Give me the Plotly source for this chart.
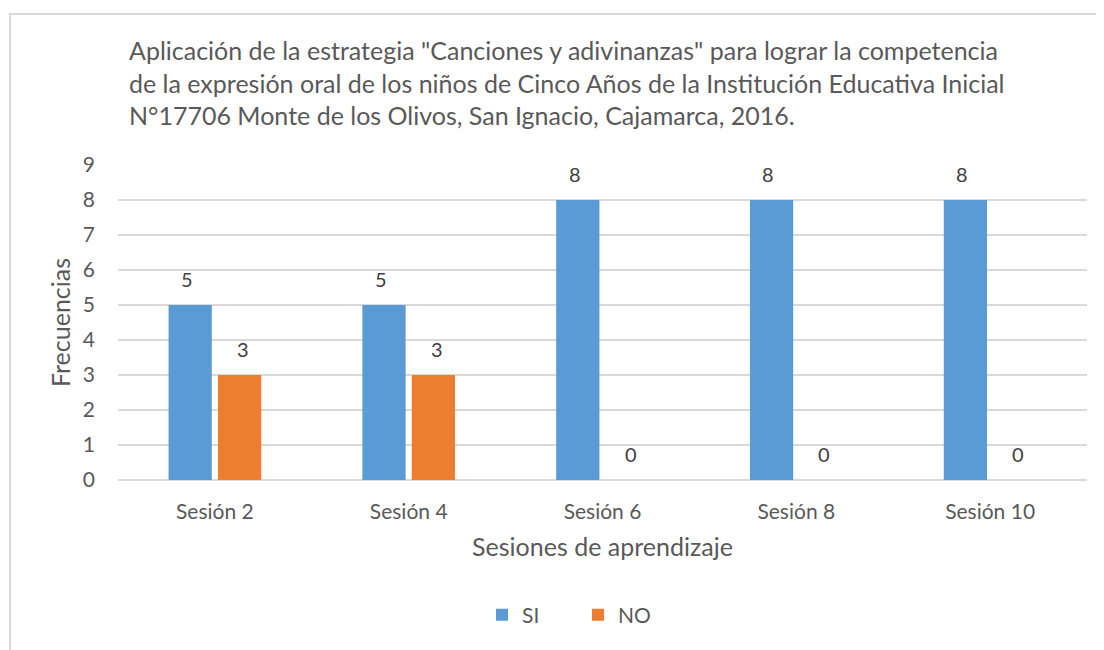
import plotly.graph_objects as go

categories = ["Sesión 2", "Sesión 4", "Sesión 6", "Sesión 8", "Sesión 10"]
si_values = [5, 5, 8, 8, 8]
no_values = [3, 3, 0, 0, 0]
series_names = ["SI", "NO"]
colors = ["#5B9BD5", "#ED7D31"]
title_lines = [
    'Aplicación de la estrategia "Canciones y adivinanzas" para lograr la competencia',
    'de la expresión oral de los niños de Cinco Años de la Institución Educativa Inicial',
    'N°17706 Monte de los Olivos, San Ignacio, Cajamarca, 2016.',
]
y_ticks = list(range(0, 10))

FONT = "Lato"
GREY = "#595959"
W, H = 1104, 650
OFF = 8  # page body margin compensation
PL, PR, PT, PB = 118 - OFF, 1087 - OFF, 165 - OFF, 480 - OFF
PW, PH = PR - PL, PB - PT

fig = go.Figure()
for name, vals, col in zip(series_names, [si_values, no_values], colors):
    fig.add_trace(go.Bar(name=name, x=categories, y=vals, marker_color=col,
                         marker_line_width=0))

# data labels
for vals, shift in [(si_values, -28), (no_values, 28)]:
    for c, v in zip(categories, vals):
        fig.add_annotation(x=c, y=v, xref="x", yref="y", text=str(v), showarrow=False,
                           xshift=shift, yshift=26, font=dict(family=FONT, size=20, color="#404040"))

fig.update_layout(
    width=W, height=H,
    paper_bgcolor="white", plot_bgcolor="white",
    margin=dict(l=PL, r=W - PR, t=PT, b=H - PB),
    barmode="group", bargap=0.49, bargroupgap=0.125,
    font=dict(family=FONT, size=21, color=GREY),
    title=dict(text="<br>".join(title_lines), x=(129 - OFF) / W, xanchor="left", xref="container",
               y=1 - (60 - OFF) / H, yanchor="top", yref="container",
               font=dict(family=FONT, size=25, color=GREY)),
    legend=dict(orientation="h", x=(498 - OFF - 16 - PL) / PW, xanchor="left",
                y=(PB - (615 - OFF)) / PH, yanchor="middle",
                font=dict(family=FONT, size=21, color=GREY), itemwidth=30,
                entrywidth=51, traceorder="normal"),
    shapes=[dict(type="rect", xref="paper", yref="paper",
                 x0=(10 - OFF - PL) / PW, x1=1.3,
                 y0=-1, y1=(PB - (14 - OFF)) / PH,
                 line=dict(color="#D9D9D9", width=2), layer="below")],
)
fig.update_yaxes(range=[0, 9], tickvals=y_ticks, gridcolor="#D9D9D9", gridwidth=1.5,
                 zeroline=True, zerolinecolor="#D9D9D9", zerolinewidth=1.5, showline=False,
                 ticklabelstandoff=22, tickfont=dict(size=21, color=GREY),
                 title=dict(text="Frecuencias", standoff=5, font=dict(size=25, color=GREY)))
fig.update_xaxes(showline=False, ticklabelstandoff=17, tickfont=dict(size=21, color=GREY),
                 title=dict(text="Sesiones de aprendizaje", standoff=16,
                            font=dict(size=25, color=GREY)))

fig.write_html("out.html")
